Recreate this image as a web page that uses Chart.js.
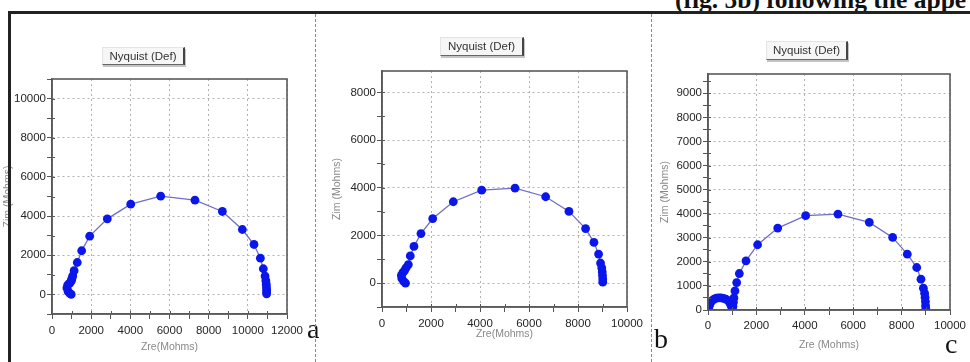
<!DOCTYPE html>
<html>
<head>
<meta charset="utf-8">
<script src="https://cdn.jsdelivr.net/npm/chart.js@4.4.1/dist/chart.umd.min.js"></script>
<style>
  body { margin: 0; width: 970px; height: 362px; background: #fff; position: relative; overflow: hidden;
         font-family: "Liberation Sans", Arial, sans-serif; }
  .panel { position: absolute; top: 0; height: 362px; }
  .nq { position: absolute; font-size: 11.5px; color: #333; text-align: center; background: #f6f6f6;
        border-top: 1px solid #e4e4e4; border-left: 1px solid #e4e4e4; border-right: 2px solid #444;
        border-bottom: 1px solid #666; box-shadow: 1px 2px 0 #c4c4c4; box-sizing: border-box; }
  .tag { position: absolute; font-family: "Liberation Serif", "Times New Roman", serif; font-size: 28px;
         line-height: 1; color: #111; }
  .cap { position: absolute; left: 675px; top: -13px; font-family: "Liberation Serif", serif; font-weight: bold;
         font-size: 25.5px; line-height: 1; color: #111; white-space: nowrap; }
  .rule { position: absolute; background: #222; z-index: 5; }
  .sep { position: absolute; top: 14px; height: 348px; border-left: 1px dashed #888; z-index: 5; }
</style>
</head>
<body>

<div class="cap">(fig. 5b) following the appe</div>
<div class="rule" style="left:8px;top:11px;width:962px;height:2.5px"></div>
<div class="rule" style="left:8px;top:11px;width:2.5px;height:351px"></div>
<div class="sep" style="left:315px"></div>
<div class="sep" style="left:651px"></div>

<div class="panel" style="left:0;width:316px"><canvas id="chartA"></canvas></div>
<div class="panel" style="left:317px;width:333px"><canvas id="chartB"></canvas></div>
<div class="panel" style="left:652px;width:318px"><canvas id="chartC"></canvas></div>

<div class="nq" style="left:102px;top:47px;width:83px;height:18px;line-height:16px">Nyquist (Def)</div>
<div class="nq" style="left:440px;top:37px;width:84px;height:19px;line-height:17px">Nyquist (Def)</div>
<div class="nq" style="left:766px;top:41px;width:82px;height:19px;line-height:17px">Nyquist (Def)</div>

<div class="tag" style="left:307px;top:315px">a</div>
<div class="tag" style="left:654px;top:325px">b</div>
<div class="tag" style="left:945px;top:330px">c</div>

<script>
// panel a
var zreA = [980, 900, 820, 760, 800, 900, 960, 1000, 1020, 1060, 1130, 1290, 1515, 1925, 2825, 4020, 5550,
            7300, 8700, 9720, 10315, 10640, 10790, 10880, 10920, 10940, 10950, 10960, 10960, 10960];
var zimA = [0, 60, 150, 330, 480, 560, 650, 720, 820, 950, 1210, 1630, 2230, 2975, 3860, 4610, 5015,
            4810, 4235, 3315, 2550, 1850, 1310, 935, 700, 520, 380, 250, 130, 30];
// panel b
var zreB = [960, 880, 810, 790, 850, 920, 980, 1075, 1155, 1305, 1590, 2070, 2910, 4070, 5430, 6680,
            7630, 8310, 8650, 8840, 8920, 8970, 8990, 9000, 9010, 9010];
var zimB = [0, 80, 200, 330, 440, 530, 640, 780, 1140, 1540, 2080, 2710, 3415, 3900, 3985, 3625,
            3010, 2290, 1710, 1220, 845, 640, 470, 320, 170, 40];
// panel c (small arc at high frequency)
var zreC = [20, 40, 70, 110, 170, 250, 340, 440, 540, 640, 740, 830, 900, 950, 985, 1005, 1030, 1050,
            1070, 1115, 1185, 1295, 1570, 2050, 2880, 4035, 5370, 6665, 7630, 8235, 8625, 8800, 8900,
            8950, 8970, 8985, 8990, 9000];
var zimC = [30, 120, 220, 310, 390, 450, 490, 505, 500, 485, 450, 390, 300, 200, 100, 30, 150, 320,
            500, 790, 1140, 1515, 2040, 2710, 3400, 3915, 3985, 3640, 3015, 2320, 1765, 1280, 905,
            700, 520, 350, 180, 40];

var chartTitle = "Nyquist (Def)";
var xTitles = ["Zre(Mohms)", "Zre(Mohms)", "Zre (Mohms)"];
var yTitles = ["Zim (Mohms)", "Zim (Mohms)", "Zim (Mohms)"];

function points(xs, ys) {
  return xs.map(function(x, i) { return {x: x, y: ys[i]}; });
}

// small inward ticks + closed plot frame
var frame = {
  id: 'frame',
  afterDraw: function(chart) {
    var ctx = chart.ctx, a = chart.chartArea;
    ctx.save();
    ctx.strokeStyle = '#555';
    ctx.lineWidth = 1;
    ['x', 'y'].forEach(function(id) {
      var s = chart.scales[id];
      s.ticks.forEach(function(t) {
        if (t.value <= s.min || t.value >= s.max) return;
        var p = Math.round(s.getPixelForValue(t.value)) + 0.5;
        ctx.beginPath();
        if (id === 'x') { ctx.moveTo(p, a.bottom); ctx.lineTo(p, a.bottom - 3); }
        else { ctx.moveTo(a.left, p); ctx.lineTo(a.left + 3, p); }
        ctx.stroke();
      });
    });
    ctx.strokeStyle = '#5a5a5a';
    ctx.lineWidth = 1.6;
    ctx.strokeRect(a.left, a.top, a.right - a.left, a.bottom - a.top);
    ctx.restore();
  }
};

function axis(o) {
  return {
    type: 'linear',
    min: o.min,
    max: o.max,
    afterFit: function(s) {
      if (s.isHorizontal()) s.height = o.size; else s.width = o.size;
    },
    // one tick per step between min and max, labels only on the major ones
    afterBuildTicks: function(s) {
      var list = [];
      for (var v = Math.ceil(o.min / o.step) * o.step; v <= o.max; v += o.step) list.push({value: v});
      s.ticks = list;
    },
    ticks: {
      autoSkip: false,
      maxRotation: 0,
      padding: o.pad,
      color: '#262626',
      font: {family: '"Liberation Sans", Arial, sans-serif', size: 11.5},
      callback: function(v) { return v % o.major === 0 ? String(v) : ''; }
    },
    grid: {
      color: function(c) { return c.tick && c.tick.value % o.major === 0 ? '#b2b2b2' : 'rgba(0,0,0,0)'; },
      tickColor: '#555',
      tickLength: 5,
      lineWidth: 1
    },
    border: {color: '#555', width: 1.5, dash: [2, 3]},
    title: {
      display: true,
      text: o.title,
      color: '#888',
      font: {family: '"Liberation Sans", Arial, sans-serif', size: 10.5},
      padding: {top: 2, bottom: 0}
    }
  };
}

function nyquist(id, data, pad, xo, yo) {
  return new Chart(document.getElementById(id), {
    type: 'scatter',
    data: {
      datasets: [{
        label: chartTitle,
        data: data,
        showLine: true,
        borderColor: '#6f6fc4',
        borderWidth: 1.3,
        pointRadius: 4.4,
        pointBackgroundColor: '#0a16ea',
        pointBorderWidth: 0
      }]
    },
    options: {
      responsive: true,
      maintainAspectRatio: false,
      animation: false,
      layout: {padding: pad},
      plugins: {legend: {display: false}, tooltip: {enabled: false}},
      scales: {x: axis(xo), y: axis(yo)}
    },
    plugins: [frame]
  });
}

nyquist('chartA', points(zreA, zimA),
  {left: 0, right: 29, top: 79, bottom: 9},
  {min: 0, max: 12000, step: 1000, major: 2000, size: 39, pad: 5, title: xTitles[0]},
  {min: -1000, max: 11000, step: 1000, major: 2000, size: 52, pad: 1, title: yTitles[0]});

nyquist('chartB', points(zreB, zimB),
  {left: 12, right: 23, top: 71, bottom: 22},
  {min: 0, max: 10000, step: 1000, major: 2000, size: 33, pad: 5, title: xTitles[1]},
  {min: -1000, max: 8900, step: 1000, major: 2000, size: 53, pad: 1, title: yTitles[1]});

nyquist('chartC', points(zreC, zimC),
  {left: 5, right: 20, top: 74, bottom: 11},
  {min: 0, max: 10000, step: 1000, major: 2000, size: 41, pad: 4, title: xTitles[2]},
  {min: 0, max: 9800, step: 500, major: 1000, size: 51, pad: 1, title: yTitles[2]});
</script>
</body>
</html>
